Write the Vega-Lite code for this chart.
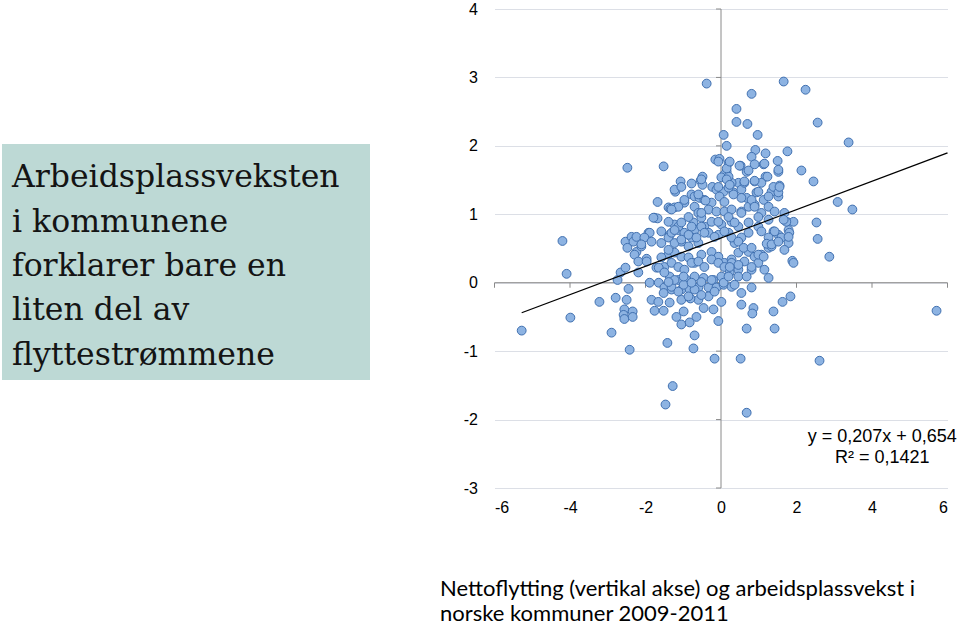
{
"$schema": "https://vega.github.io/schema/vega-lite/v6.json",
"padding": {"left": 2, "top": 1, "right": 0, "bottom": 0},
"background": "white",
"config": {"view": {"stroke": null}, "concat": {"spacing": 92.5}},
"center": true,
"title": {"text": ["Nettoflytting (vertikal akse) og arbeidsplassvekst i", "norske kommuner 2009-2011"], "orient": "bottom", "anchor": "start", "font": "Lato", "fontSize": 22, "fontWeight": "normal", "color": "#000", "offset": 64, "dx": 438, "lineHeight": 25, "frame": "bounds"},
"hconcat": [
{
  "width": 368, "height": 236,
  "view": {"fill": "#bdd9d5", "stroke": null},
  "data": {"values": [
    {"line": 1, "text": "Arbeidsplassveksten"},
    {"line": 2, "text": "i kommunene"},
    {"line": 3, "text": "forklarer bare en"},
    {"line": 4, "text": "liten del av"},
    {"line": 5, "text": "flyttestrømmene"}
  ]},
  "mark": {"type": "text", "align": "left", "baseline": "alphabetic", "font": "DejaVu Serif", "fontSize": 31.5, "color": "#141414", "dy": 14},
  "encoding": {
    "y": {"field": "line", "type": "ordinal", "scale": {"type": "point", "padding": 0.665}, "axis": null},
    "x": {"value": 10},
    "text": {"field": "text"}
  }
},
{
  "width": 453, "height": 479,
  "encoding": {
    "x": {"field": "x", "type": "quantitative", "scale": {"domain": [-6, 6], "nice": false, "zero": false},
      "axis": {"title": null, "values": [-6, -4, -2, 0, 2, 4, 6], "labelExpr": "'' + datum.value", "grid": false, "domain": false, "ticks": false, "labelPadding": 11, "labelFontSize": 16, "labelFont": "Liberation Sans", "labelColor": "#000"}},
    "y": {"field": "y", "type": "quantitative", "scale": {"domain": [-3, 4], "nice": false, "zero": false},
      "axis": {"title": null, "values": [-3, -2, -1, 0, 1, 2, 3, 4], "labelExpr": "'' + datum.value", "grid": true, "gridColor": "#dcdfe6", "gridWidth": 1, "domain": false, "ticks": false, "labelPadding": 17, "labelFontSize": 16, "labelFont": "Liberation Sans", "labelColor": "#000"}}
  },
  "layer": [
    {
      "data": {"values": [{"x": 0, "x2": 0, "y": -3, "y2": 4}, {"x": -6, "x2": 6, "y": 0, "y2": 0}]},
      "mark": {"type": "rule", "color": "#8a8a8a", "strokeWidth": 1},
      "encoding": {"x2": {"field": "x2"}, "y2": {"field": "y2"}}
    },
    {
      "data": {"values": [{"x": 0, "y": -3}, {"x": 0, "y": -2}, {"x": 0, "y": -1}, {"x": 0, "y": 0}, {"x": 0, "y": 1}, {"x": 0, "y": 2}, {"x": 0, "y": 3}, {"x": 0, "y": 4}]},
      "mark": {"type": "tick", "orient": "horizontal", "size": 5, "thickness": 1, "color": "#8a8a8a", "xOffset": -2.5, "opacity": 1}
    },
    {
      "data": {"values": [{"x": -6, "y": 0}, {"x": -4, "y": 0}, {"x": -2, "y": 0}, {"x": 0, "y": 0}, {"x": 2, "y": 0}, {"x": 4, "y": 0}, {"x": 6, "y": 0}]},
      "mark": {"type": "tick", "orient": "vertical", "size": 5, "thickness": 1, "color": "#8a8a8a", "yOffset": 2.5, "opacity": 1}
    },
    {
      "data": {"values": [
{"x":-0.38,"y":2.91},{"x":1.66,"y":2.94},{"x":2.24,"y":2.82},{"x":0.81,"y":2.76},{"x":0.41,"y":2.54},{"x":0.41,"y":2.35},{"x":0.70,"y":2.32},{"x":2.56,"y":2.34},{"x":0.97,"y":2.16},{"x":0.07,"y":2.16},
{"x":0.15,"y":2.00},{"x":3.38,"y":2.05},{"x":0.91,"y":1.94},{"x":1.76,"y":1.92},{"x":1.18,"y":1.89},{"x":0.81,"y":1.84},{"x":-0.15,"y":1.80},{"x":-0.04,"y":1.81},{"x":-2.48,"y":1.68},{"x":-1.52,"y":1.70},
{"x":1.50,"y":1.78},{"x":0.20,"y":1.75},{"x":0.52,"y":1.71},{"x":1.13,"y":1.73},{"x":2.13,"y":1.64},{"x":0.68,"y":1.62},{"x":1.52,"y":1.62},{"x":0.15,"y":1.62},{"x":0.09,"y":1.58},{"x":1.18,"y":1.55},
{"x":0.01,"y":1.54},{"x":2.45,"y":1.48},{"x":-1.07,"y":1.48},{"x":-0.49,"y":1.55},{"x":-0.54,"y":1.49},{"x":-0.78,"y":1.45},{"x":0.89,"y":1.48},{"x":1.07,"y":1.46},{"x":1.55,"y":1.42},{"x":0.46,"y":1.46},
{"x":-1.21,"y":1.33},{"x":3.09,"y":1.18},{"x":3.48,"y":1.07},{"x":-1.68,"y":1.18},{"x":-4.20,"y":0.61},{"x":2.53,"y":0.88},{"x":2.56,"y":0.64},{"x":2.87,"y":0.38},{"x":1.89,"y":0.32},
{"x":-1.39,"y":1.10},{"x":-1.34,"y":1.08},{"x":-1.76,"y":0.95},{"x":-1.68,"y":0.94},{"x":-1.92,"y":0.73},{"x":-0.49,"y":1.43},{"x":-0.23,"y":1.40},{"x":-0.12,"y":1.36},{"x":0.07,"y":1.33},{"x":0.28,"y":1.46},
{"x":0.20,"y":1.55},{"x":0.15,"y":1.67},{"x":-0.07,"y":1.77},{"x":0.23,"y":1.77},{"x":0.49,"y":1.71},{"x":0.73,"y":1.64},{"x":0.89,"y":1.49},{"x":1.23,"y":1.55},{"x":1.34,"y":1.33},{"x":1.52,"y":1.26},
{"x":1.52,"y":1.65},{"x":1.15,"y":1.74},{"x":0.89,"y":1.73},{"x":-0.78,"y":1.29},{"x":-0.70,"y":1.26},{"x":-0.57,"y":1.24},{"x":-0.97,"y":1.17},{"x":-1.23,"y":1.10},{"x":-0.70,"y":1.11},{"x":-0.44,"y":1.21},
{"x":-0.25,"y":1.17},{"x":-0.04,"y":1.26},{"x":0.09,"y":1.18},{"x":0.33,"y":1.32},{"x":0.54,"y":1.36},{"x":0.68,"y":1.24},{"x":0.94,"y":1.32},{"x":1.13,"y":1.21},{"x":1.26,"y":1.11},{"x":1.42,"y":1.04},
{"x":1.68,"y":1.02},{"x":1.79,"y":0.88},{"x":1.92,"y":0.89},{"x":1.79,"y":0.77},{"x":-0.60,"y":1.02},{"x":-0.52,"y":0.95},{"x":-0.33,"y":1.07},{"x":-0.12,"y":1.04},{"x":0.09,"y":1.04},{"x":0.28,"y":1.07},
{"x":0.54,"y":1.04},{"x":0.73,"y":1.11},{"x":0.89,"y":1.14},{"x":1.07,"y":1.02},{"x":1.26,"y":0.92},{"x":1.39,"y":0.75},{"x":1.52,"y":0.70},{"x":-0.73,"y":0.88},{"x":-0.70,"y":0.77},{"x":-0.44,"y":0.82},
{"x":-0.25,"y":0.89},{"x":0.01,"y":0.85},{"x":0.28,"y":0.89},{"x":0.46,"y":0.82},{"x":0.73,"y":0.88},{"x":0.99,"y":0.82},{"x":-1.23,"y":0.85},{"x":-1.13,"y":0.77},{"x":-0.97,"y":0.73},{"x":-1.58,"y":0.75},
{"x":-1.36,"y":0.70},{"x":-1.89,"y":0.73},{"x":-1.79,"y":0.95},{"x":-2.53,"y":0.60},{"x":-2.37,"y":0.67},{"x":-2.32,"y":0.60},{"x":-2.24,"y":0.45},{"x":-2.11,"y":0.53},{"x":-1.97,"y":0.35},{"x":-2.48,"y":0.51},
{"x":-2.29,"y":0.41},{"x":-1.58,"y":0.58},{"x":-1.39,"y":0.66},{"x":-1.31,"y":0.73},{"x":-1.13,"y":0.82},{"x":-1.05,"y":0.60},{"x":-0.86,"y":0.53},{"x":-0.78,"y":0.66},{"x":-0.60,"y":0.58},{"x":-1.39,"y":0.41},
{"x":-1.23,"y":0.44},{"x":-1.05,"y":0.38},{"x":-0.86,"y":0.37},{"x":-0.70,"y":0.29},{"x":-0.52,"y":0.41},{"x":-0.25,"y":0.45},{"x":-0.07,"y":0.38},{"x":0.09,"y":0.29},{"x":0.28,"y":0.34},{"x":0.46,"y":0.44},
{"x":0.73,"y":0.45},{"x":0.89,"y":0.38},{"x":1.07,"y":0.41},{"x":0.99,"y":0.29},{"x":1.26,"y":0.51},{"x":1.34,"y":0.53},{"x":1.42,"y":0.75},{"x":1.60,"y":0.66},{"x":1.79,"y":0.58},{"x":1.81,"y":0.73},
{"x":1.73,"y":0.89},{"x":1.66,"y":0.92},{"x":1.26,"y":0.66},{"x":1.39,"y":1.40},{"x":1.52,"y":1.32},{"x":1.26,"y":1.26},{"x":1.55,"y":1.40},{"x":0.62,"y":1.46},{"x":0.99,"y":1.33},{"x":0.81,"y":1.21},
{"x":0.54,"y":1.24},{"x":0.33,"y":1.29},{"x":0.20,"y":1.39},{"x":-0.07,"y":1.40},{"x":-0.60,"y":1.29},{"x":-0.41,"y":1.20},{"x":-0.52,"y":1.02},{"x":-0.07,"y":0.89},{"x":0.20,"y":0.96},{"x":0.36,"y":0.88},
{"x":0.54,"y":1.02},{"x":0.89,"y":1.11},{"x":0.99,"y":0.96},{"x":1.07,"y":0.75},{"x":0.73,"y":0.73},{"x":0.54,"y":0.66},{"x":0.36,"y":0.58},{"x":0.20,"y":0.73},{"x":-0.07,"y":0.70},{"x":-0.33,"y":0.73},
{"x":-0.52,"y":0.82},{"x":-0.86,"y":0.96},{"x":-1.05,"y":0.88},{"x":-1.23,"y":0.77},{"x":-1.39,"y":0.89},{"x":-1.13,"y":1.11},{"x":-0.97,"y":1.21},{"x":-1.31,"y":1.07},{"x":-0.78,"y":0.82},
{"x":-2.24,"y":0.67},{"x":-2.03,"y":0.66},{"x":-2.11,"y":0.56},{"x":-1.84,"y":0.60},{"x":-2.19,"y":0.31},{"x":-1.97,"y":0.31},{"x":-1.71,"y":0.22},{"x":-1.58,"y":0.37},{"x":-1.39,"y":0.48},{"x":-1.23,"y":0.58},
{"x":-1.05,"y":0.63},{"x":-0.86,"y":0.70},{"x":-0.65,"y":0.66},{"x":-0.44,"y":0.73},{"x":-0.17,"y":0.67},{"x":0.09,"y":0.75},{"x":0.28,"y":0.66},{"x":0.46,"y":0.60},{"x":0.60,"y":0.51},{"x":0.81,"y":0.51},
{"x":0.99,"y":0.41},{"x":1.13,"y":0.38},{"x":1.21,"y":0.57},{"x":1.34,"y":0.56},{"x":1.52,"y":0.60},{"x":1.68,"y":0.48},{"x":1.79,"y":0.67},{"x":1.92,"y":0.29},{"x":1.15,"y":0.19},{"x":1.26,"y":0.07},
{"x":-1.50,"y":0.23},{"x":-1.31,"y":0.29},{"x":-1.13,"y":0.23},{"x":-0.97,"y":0.19},{"x":-0.78,"y":0.29},{"x":-0.60,"y":0.31},{"x":-0.44,"y":0.23},{"x":-0.25,"y":0.34},{"x":-0.07,"y":0.29},{"x":0.09,"y":0.23},
{"x":0.28,"y":0.29},{"x":0.46,"y":0.19},{"x":0.62,"y":0.31},{"x":0.81,"y":0.19},{"x":-1.36,"y":0.09},{"x":-1.13,"y":0.04},{"x":-0.91,"y":0.04},{"x":-0.70,"y":0.09},{"x":-0.46,"y":0.07},{"x":-0.20,"y":0.04},
{"x":0.01,"y":0.09},{"x":0.23,"y":0.15},{"x":0.46,"y":0.09},{"x":0.68,"y":0.09},{"x":-1.89,"y":0.00},{"x":-1.65,"y":0.00},{"x":-1.50,"y":-0.07},{"x":-1.31,"y":-0.10},{"x":-1.05,"y":-0.10},{"x":-0.83,"y":-0.10},
{"x":-0.60,"y":-0.07},{"x":-0.33,"y":-0.07},{"x":-0.12,"y":-0.07},{"x":0.07,"y":-0.03},{"x":0.28,"y":-0.06},{"x":0.54,"y":-0.15},{"x":0.81,"y":-0.07},{"x":-1.84,"y":-0.25},{"x":-1.66,"y":-0.28},{"x":-1.36,"y":-0.29},
{"x":-1.05,"y":-0.25},{"x":-0.83,"y":-0.22},{"x":-0.60,"y":-0.25},{"x":-0.33,"y":-0.20},{"x":0.01,"y":-0.28},{"x":0.54,"y":-0.32},
{"x":-3.22,"y":-0.28},{"x":-2.79,"y":-0.22},{"x":-2.50,"y":-0.25},{"x":-2.74,"y":0.04},{"x":-2.66,"y":0.15},{"x":-2.53,"y":0.22},{"x":-2.45,"y":-0.09},{"x":-2.56,"y":-0.39},{"x":-2.58,"y":-0.47},{"x":-2.56,"y":-0.53},
{"x":-2.34,"y":-0.42},{"x":-2.34,"y":-0.50},{"x":-2.90,"y":-0.73},{"x":-2.42,"y":-0.98},{"x":-2.19,"y":0.15},{"x":-1.76,"y":-0.41},{"x":-1.52,"y":-0.41},{"x":-1.42,"y":-0.88},{"x":-1.18,"y":-0.50},{"x":-1.05,"y":-0.61},
{"x":-0.99,"y":-0.42},{"x":-0.83,"y":-0.58},{"x":-0.81,"y":-0.23},{"x":-0.70,"y":-0.77},{"x":-0.73,"y":-0.96},{"x":-0.65,"y":-0.50},{"x":-0.46,"y":-0.37},{"x":-0.20,"y":-0.39},{"x":-0.07,"y":-0.56},{"x":0.86,"y":-0.37},
{"x":0.83,"y":-0.45},{"x":0.68,"y":-0.67},{"x":1.39,"y":-0.42},{"x":1.42,"y":-0.67},{"x":1.63,"y":-0.28},{"x":1.84,"y":-0.20},{"x":-1.52,"y":-0.15},{"x":-1.31,"y":-0.06},{"x":-1.13,"y":-0.13},{"x":-0.99,"y":-0.03},
{"x":-0.86,"y":-0.20},{"x":-0.70,"y":-0.10},{"x":-0.52,"y":-0.18},{"x":-0.17,"y":-0.13},{"x":0.07,"y":0.00},{"x":0.20,"y":0.09},{"x":0.36,"y":-0.03},{"x":-0.25,"y":0.04},{"x":-0.52,"y":0.01},{"x":-0.78,"y":0.00},
{"x":-0.99,"y":0.09},{"x":-1.23,"y":0.04},{"x":-1.39,"y":0.01},{"x":-1.65,"y":0.22},{"x":-1.50,"y":0.15},{"x":0.81,"y":0.23},{"x":0.46,"y":0.26},{"x":0.23,"y":0.23},
{"x":-1.28,"y":-1.51},{"x":-1.47,"y":-1.78},{"x":0.68,"y":-1.90},{"x":0.52,"y":-1.11},{"x":-0.17,"y":-1.11},{"x":2.61,"y":-1.14},{"x":5.71,"y":-0.41},{"x":-4.09,"y":0.13},{"x":-3.99,"y":-0.51},{"x":-5.28,"y":-0.70},
{"x":-0.52,"y":1.51},{"x":0.15,"y":1.51},{"x":0.23,"y":1.43},{"x":0.62,"y":1.48},{"x":-1.23,"y":1.36},{"x":-1.05,"y":1.40}
      ]},
      "mark": {"type": "circle", "size": 78, "color": "#8db3e2", "stroke": "#4070b0", "strokeWidth": 1, "opacity": 1}
    },
    {
      "data": {"values": [{"x": -5.28, "y": -0.439}, {"x": 6, "y": 1.896}]},
      "mark": {"type": "line", "color": "#000", "strokeWidth": 1.3}
    },
    {
      "data": {"values": [{"x": 4.27, "y": -2.335, "label": "y = 0,207x + 0,654"}, {"x": 4.27, "y": -2.63, "label": "R² = 0,1421"}]},
      "mark": {"type": "text", "font": "Liberation Sans", "fontSize": 18, "align": "center", "baseline": "alphabetic", "color": "#000"},
      "encoding": {"text": {"field": "label"}}
    }
  ]
}
]
}
